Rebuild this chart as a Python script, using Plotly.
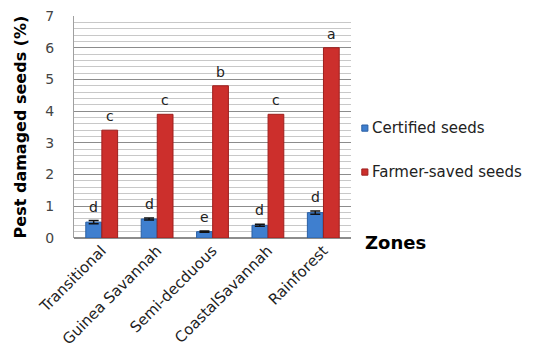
import plotly.graph_objects as go

zones = ["Transitional", "Guinea Savannah", "Semi-decduous", "CoastalSavannah", "Rainforest"]
certified = [0.5, 0.6, 0.2, 0.4, 0.8]
certified_err = [0.05, 0.03, 0.02, 0.03, 0.05]
farmer_saved = [3.4, 3.9, 4.8, 3.9, 6.0]
certified_letters = ["d", "d", "e", "d", "d"]
farmer_letters = ["c", "c", "b", "c", "a"]
series_names = ["Certified seeds", "Farmer-saved seeds"]
series_colors = ["#3f7fcf", "#cc2f2c"]
series_edges = ["#2a5fa3", "#9e1f1d"]

FONT = "DejaVu Sans"

fig = go.Figure()
fig.add_trace(go.Bar(
    name=series_names[0], x=zones, y=certified, showlegend=False,
    marker=dict(color=series_colors[0], line=dict(color=series_edges[0], width=1)),
    error_y=dict(type="data", array=certified_err, color="#111111", thickness=1.5, width=5),
))
fig.add_trace(go.Bar(
    name=series_names[1], x=zones, y=farmer_saved, showlegend=False,
    marker=dict(color=series_colors[1], line=dict(color=series_edges[1], width=1)),
))

# significance letters above each bar
for z, v, e, t in zip(zones, certified, certified_err, certified_letters):
    fig.add_annotation(x=z, y=v + e, text=t, showarrow=False, xshift=-8, yshift=14,
                       font=dict(family=FONT, size=14, color="#222222"))
for z, v, t in zip(zones, farmer_saved, farmer_letters):
    fig.add_annotation(x=z, y=v, text=t, showarrow=False, xshift=8, yshift=14,
                       font=dict(family=FONT, size=14, color="#222222"))

# legend: small coloured squares with labels
for i, (name, col, edge) in enumerate(zip(series_names, series_colors, series_edges)):
    yc = 0.495 - i * 0.198
    fig.add_shape(type="rect", xref="paper", yref="paper",
                  x0=1.039, x1=1.061, y0=yc - 0.014, y1=yc + 0.014,
                  fillcolor=col, line=dict(color=edge, width=1))
    fig.add_annotation(xref="paper", yref="paper", x=1.068, y=yc, xanchor="left", yanchor="middle",
                       text=name, showarrow=False,
                       font=dict(family=FONT, size=15, color="#222222"))

fig.add_annotation(xref="paper", yref="paper", x=1.045, y=-0.02, xanchor="left", yanchor="middle",
                   text="<b>Zones</b>", showarrow=False,
                   font=dict(family=FONT, size=18, color="#000000"))

fig.update_layout(
    width=543, height=350,
    margin=dict(l=74, r=192, t=16, b=112),
    paper_bgcolor="white", plot_bgcolor="white",
    barmode="group", bargap=0.42, bargroupgap=0.02,
    font=dict(family=FONT),
)
fig.update_xaxes(
    tickangle=-45, tickfont=dict(family=FONT, size=15, color="#222222"),
    showline=False, ticks="", automargin=False,
)
fig.update_yaxes(
    range=[0, 7], dtick=1, tickfont=dict(family=FONT, size=14, color="#444444"),
    ticklabelstandoff=16, automargin=False,
    showgrid=True, gridcolor="#8c8c8c", gridwidth=1,
    minor=dict(dtick=0.2, showgrid=True, gridcolor="#c8c8c8", gridwidth=1),
    showline=True, linecolor="#a0a0a0", zeroline=True, zerolinecolor="#8c8c8c",
    title=dict(text="<b>Pest damaged seeds (%)</b>", font=dict(family=FONT, size=16, color="#000000"),
               standoff=14),
    ticks="",
)

fig.write_html("out.html")
